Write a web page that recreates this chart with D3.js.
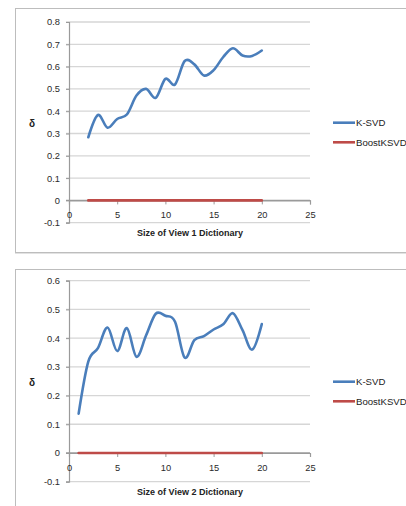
<!DOCTYPE html>
<html>
<head>
<meta charset="utf-8">
<script src="https://cdn.jsdelivr.net/npm/d3@7"></script>
<style>
  body { margin: 0; background: #fff; }
  svg { display: block; font-family: "Liberation Sans", Arial, sans-serif; }
</style>
</head>
<body>
<svg id="chart" width="406" height="506"></svg>
<script>
// ---- Data ----
const seriesNames = ["K-SVD", "BoostKSVD"];
const xTicks = [0, 5, 10, 15, 20, 25];

const view1Sizes = [2,3,4,5,6,7,8,9,10,11,12,13,14,15,16,17,18,19,20];
const view1KSVD  = [0.283,0.383,0.326,0.365,0.385,0.47,0.50,0.46,0.545,0.52,0.625,0.61,0.56,0.584,0.643,0.682,0.65,0.648,0.672];
const view1Boost = [0,0,0,0,0,0,0,0,0,0,0,0,0,0,0,0,0,0,0];
const view1YTicks = [-0.1,0,0.1,0.2,0.3,0.4,0.5,0.6,0.7,0.8];
const view1YLabels = ["-0.1","0","0.1","0.2","0.3","0.4","0.5","0.6","0.7","0.8"];
const view1Title = "Size of View 1 Dictionary";

const view2Sizes = [1,2,3,4,5,6,7,8,9,10,11,12,13,14,15,16,17,18,19,20];
const view2KSVD  = [0.137,0.318,0.365,0.437,0.355,0.435,0.335,0.41,0.485,0.478,0.457,0.332,0.393,0.407,0.43,0.448,0.487,0.428,0.36,0.449];
const view2Boost = [0,0,0,0,0,0,0,0,0,0,0,0,0,0,0,0,0,0,0,0];
const view2YTicks = [-0.1,0,0.1,0.2,0.3,0.4,0.5,0.6];
const view2YLabels = ["-0.1","0","0.1","0.2","0.3","0.4","0.5","0.6"];
const view2Title = "Size of View 2 Dictionary";

const colors = ["#4a7ebb", "#be4b48"];

const svg = d3.select("#chart");

function drawChart(cfg) {
  const g = svg.append("g");
  // chart area border
  g.append("rect")
    .attr("x", 15.5).attr("y", cfg.boxTop + 0.5)
    .attr("width", 420).attr("height", cfg.boxH)
    .attr("fill", "#fff").attr("stroke", "#bdbdbd").attr("stroke-width", 1);
  g.append("line")
    .attr("x1", 15).attr("x2", 420)
    .attr("y1", cfg.boxTop + cfg.boxH + 1.5).attr("y2", cfg.boxTop + cfg.boxH + 1.5)
    .attr("stroke", "#e2e2e2").attr("stroke-width", 1);

  const x = d3.scaleLinear().domain([0, 25]).range([69, 310]);
  const y = d3.scaleLinear().domain([cfg.yTicks[0], cfg.yTicks[cfg.yTicks.length-1]]).range([cfg.yBottom, cfg.yTop]);

  // gridlines
  g.append("g").selectAll("line").data(cfg.yTicks).join("line")
    .attr("x1", 66).attr("x2", 310)
    .attr("y1", d => y(d)).attr("y2", d => y(d))
    .attr("stroke", d => d === 0 ? "#9a9a9a" : "#d6d6d6").attr("stroke-width", 1.3);

  // y axis
  const yAxis = d3.axisLeft(y).tickValues(cfg.yTicks).tickSize(3)
    .tickFormat((d, i) => cfg.yLabels[i]);
  const ya = g.append("g").attr("transform", "translate(69,0)").call(yAxis);
  ya.select(".domain").attr("stroke", "#9a9a9a").attr("stroke-width", 1.2);
  ya.selectAll(".tick line").attr("stroke", "#9a9a9a");
  ya.selectAll(".tick text").attr("x", -9).attr("font-size", 9.3).attr("fill", "#2a2a2a")
    .attr("font-family", "Liberation Sans, Arial, sans-serif");

  // x axis at y = 0
  const xAxis = d3.axisBottom(x).tickValues(xTicks).tickSize(4).tickPadding(7);
  const xa = g.append("g").attr("transform", `translate(0,${y(0)})`).call(xAxis);
  xa.select(".domain").attr("stroke", "#9a9a9a").attr("stroke-width", 1.2);
  xa.selectAll(".tick line").attr("stroke", "#9a9a9a");
  xa.selectAll(".tick text").attr("font-size", 9.3).attr("fill", "#2a2a2a")
    .attr("font-family", "Liberation Sans, Arial, sans-serif");

  // lines
  const line = d3.line()
    .x(d => x(d[0])).y(d => y(d[1]))
    .curve(d3.curveCardinal.tension(0));
  [cfg.ksvd, cfg.boost].forEach((vals, i) => {
    g.append("path")
      .datum(cfg.sizes.map((s, j) => [s, vals[j]]))
      .attr("fill", "none").attr("stroke", colors[i]).attr("stroke-width", 2.6)
      .attr("stroke-linejoin", "round").attr("stroke-linecap", "round")
      .attr("d", line);
  });

  // y label
  g.append("text").attr("x", 32).attr("y", cfg.legendY + 4)
    .attr("text-anchor", "middle").attr("font-weight", "bold").attr("font-size", 10)
    .attr("fill", "#222").text("δ");

  // x title
  g.append("text").attr("x", 190).attr("y", cfg.titleY)
    .attr("text-anchor", "middle").attr("font-weight", "bold").attr("font-size", 9)
    .attr("fill", "#222").text(cfg.title);

  // legend
  seriesNames.forEach((name, i) => {
    const ly = cfg.legendY + i * 19.6;
    g.append("line").attr("x1", 333).attr("x2", 355).attr("y1", ly).attr("y2", ly)
      .attr("stroke", colors[i]).attr("stroke-width", 2.6);
    g.append("text").attr("x", 356).attr("y", ly + 3.4)
      .attr("font-size", 9.6).attr("fill", "#222").text(name);
  });
}

drawChart({
  boxTop: 8, boxH: 244, yTop: 22, yBottom: 222.7,
  yTicks: view1YTicks, yLabels: view1YLabels, sizes: view1Sizes, ksvd: view1KSVD, boost: view1Boost,
  title: view1Title, titleY: 236, legendY: 122.7
});
drawChart({
  boxTop: 269, boxH: 300, yTop: 280.7, yBottom: 481.7,
  yTicks: view2YTicks, yLabels: view2YLabels, sizes: view2Sizes, ksvd: view2KSVD, boost: view2Boost,
  title: view2Title, titleY: 495, legendY: 381.7
});
</script>
</body>
</html>
